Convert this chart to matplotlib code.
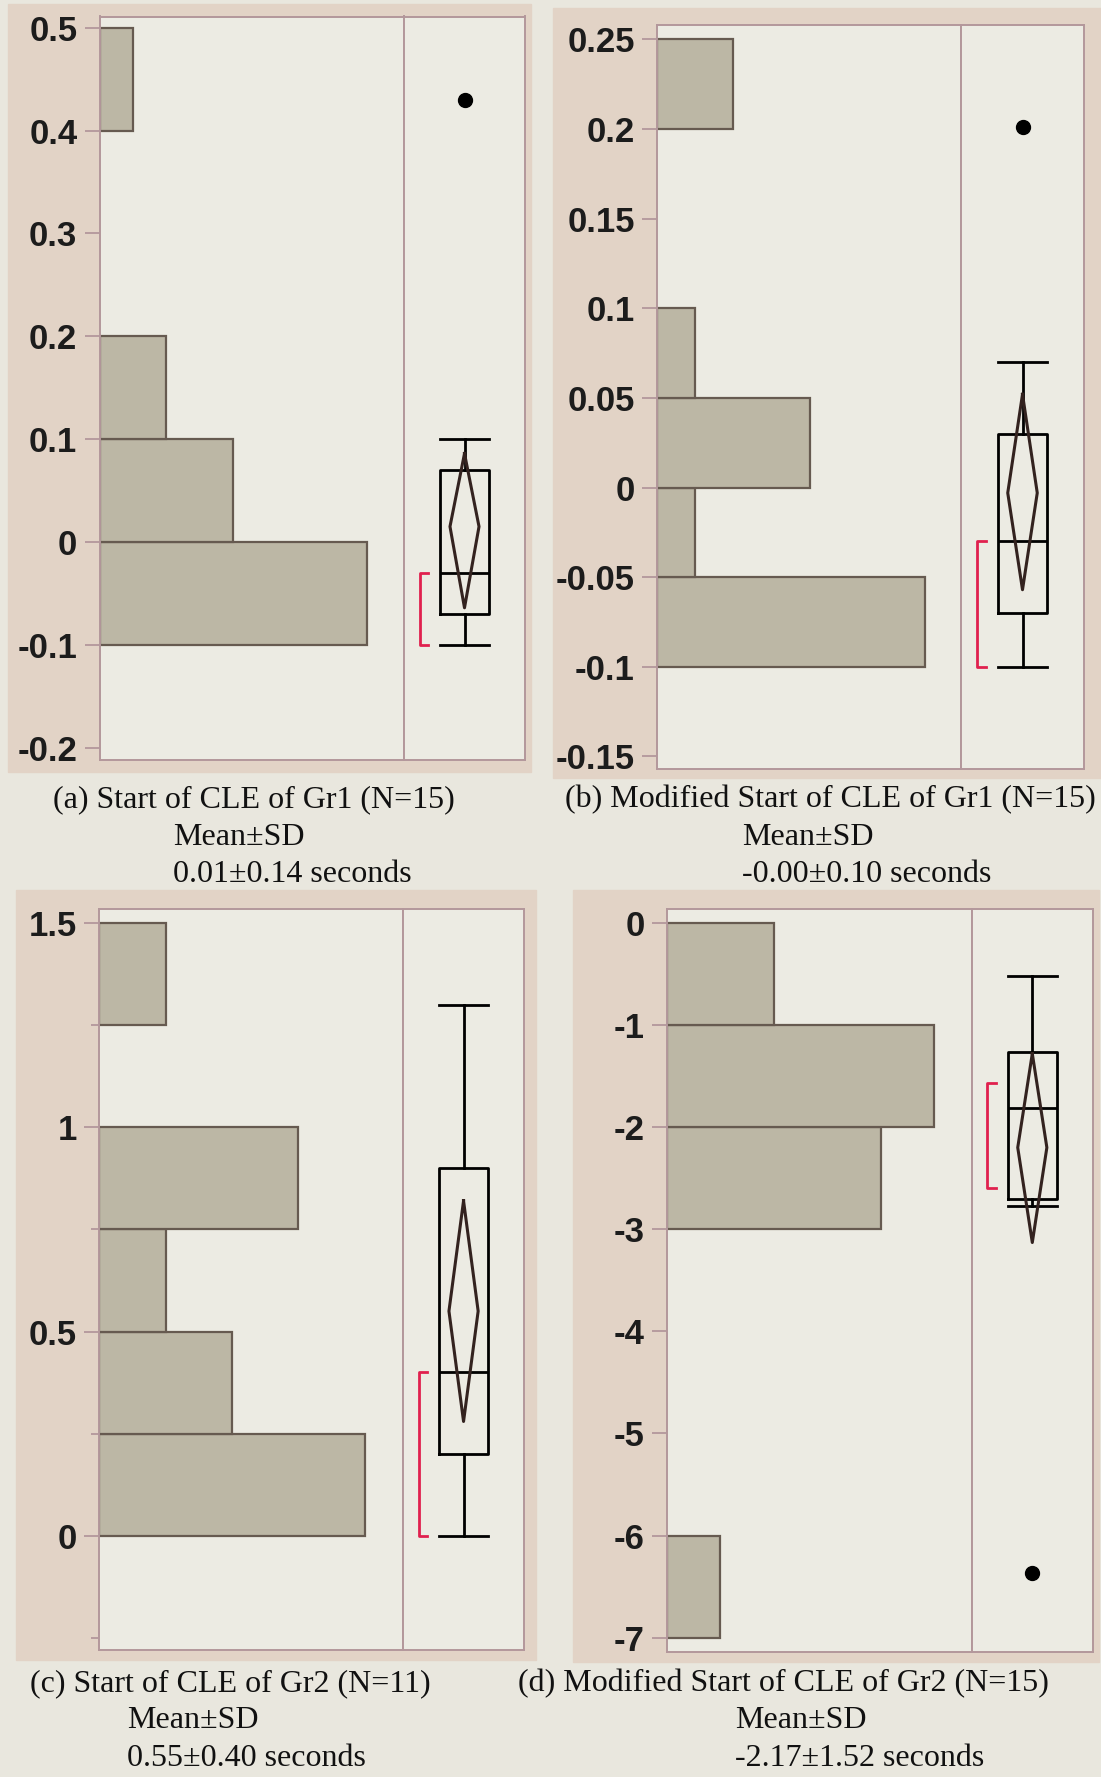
import numpy as np
import matplotlib.pyplot as plt
from matplotlib.patches import Rectangle
from matplotlib.ticker import FixedLocator

plt.rcParams['axes.unicode_minus'] = False

W, H = 1101, 1777

# (a) Start of CLE of Gr1
a_bin_lo = [-0.1, 0.0, 0.1, 0.4]
a_bin_w = 0.1
a_counts = [8, 4, 2, 1]
a_box = dict(whislo=-0.1, q1=-0.07, med=-0.03, q3=0.07, whishi=0.1, fliers=[0.43])
a_mean, a_ci = 0.015, (-0.064, 0.086)
a_half = (-0.1, -0.03)
a_ticks = [-0.2, -0.1, 0, 0.1, 0.2, 0.3, 0.4, 0.5]
a_minor = []
a_ylim = (-0.212, 0.511)
a_xmax = 9.1
a_caption = ["(a) Start of CLE of Gr1 (N=15)", "Mean\u00b1SD", "0.01\u00b10.14 seconds"]

# (b) Modified Start of CLE of Gr1
b_bin_lo = [-0.1, -0.05, 0.0, 0.05, 0.2]
b_bin_w = 0.05
b_counts = [7, 1, 4, 1, 2]
b_box = dict(whislo=-0.1, q1=-0.07, med=-0.03, q3=0.03, whishi=0.07, fliers=[0.201])
b_mean, b_ci = -0.003, (-0.057, 0.052)
b_half = (-0.1, -0.03)
b_ticks = [-0.15, -0.1, -0.05, 0, 0.05, 0.1, 0.15, 0.2, 0.25]
b_minor = []
b_ylim = (-0.157, 0.258)
b_xmax = 7.95
b_caption = ["(b) Modified Start of CLE of Gr1 (N=15)", "Mean\u00b1SD", "-0.00\u00b10.10 seconds"]

# (c) Start of CLE of Gr2
c_bin_lo = [0.0, 0.25, 0.5, 0.75, 1.25]
c_bin_w = 0.25
c_counts = [4, 2, 1, 3, 1]
c_box = dict(whislo=0.0, q1=0.2, med=0.4, q3=0.9, whishi=1.3, fliers=[])
c_mean, c_ci = 0.55, (0.28, 0.82)
c_half = (0.0, 0.4)
c_ticks = [0, 0.5, 1, 1.5]
c_minor = [-0.25, 0.25, 0.75, 1.25]
c_ylim = (-0.278, 1.535)
c_xmax = 4.57
c_caption = ["(c) Start of CLE of Gr2 (N=11)", "Mean\u00b1SD", "0.55\u00b10.40 seconds"]

# (d) Modified Start of CLE of Gr2
d_bin_lo = [-7, -3, -2, -1]
d_bin_w = 1
d_counts = [1, 4, 5, 2]
d_box = dict(whislo=-2.77, q1=-2.70, med=-1.81, q3=-1.26, whishi=-0.52, fliers=[-6.37])
d_mean, d_ci = -2.2, (-3.13, -1.28)
d_half = (-2.60, -1.57)
d_ticks = [-7, -6, -5, -4, -3, -2, -1, 0]
d_minor = []
d_ylim = (-7.14, 0.14)
d_xmax = 5.7
d_caption = ["(d) Modified Start of CLE of Gr2 (N=15)", "Mean\u00b1SD", "-2.17\u00b11.52 seconds"]

frame_col = '#b3979b'
bar_col = '#bcb7a5'
bar_edge = '#665a50'
inner_col = '#ecebe3'
tan_col = '#e2d3c6'

fig = plt.figure(figsize=(W / 100, H / 100), dpi=100, facecolor='#e9e7de')


def rect(l, t, r, b):
    return [l / W, 1 - b / H, (r - l) / W, (b - t) / H]


def panel(hist_px, div_x, right_x, bg_px, bin_lo, bin_w, counts, box, mean, ci, half,
          ticks, minor, ylim, xmax, caption, cap_cx, cap_lx, cap_y):
    l, t, r, b = bg_px
    fig.patches.append(Rectangle((l / W, 1 - b / H), (r - l) / W, (b - t) / H,
                                 transform=fig.transFigure, color=tan_col, zorder=-5))
    hl, ht, hb = hist_px
    ax = fig.add_axes(rect(hl, ht, div_x, hb))
    bx = fig.add_axes(rect(div_x, ht, right_x, hb))
    for a in (ax, bx):
        a.set_facecolor(inner_col)
        a.set_ylim(*ylim)
        for s in a.spines.values():
            s.set_color(frame_col)
            s.set_linewidth(1.4)
    ax.barh(bin_lo, counts, height=bin_w, align='edge', left=0,
            color=bar_col, edgecolor=bar_edge, linewidth=1.6)
    ax.set_xlim(0, xmax)
    ax.set_xticks([])
    ax.yaxis.set_major_locator(FixedLocator(ticks))
    ax.set_yticklabels([f"{round(v, 3):g}" for v in ticks],
                       fontsize=25, fontweight='bold', color='#1c1c1c',
                       family='Liberation Sans')
    ax.tick_params(axis='y', which='major', length=11, width=1.3, color=frame_col, pad=5)
    if minor:
        ax.yaxis.set_minor_locator(FixedLocator(minor))
        ax.tick_params(axis='y', which='minor', length=6, width=1.3, color=frame_col)

    stats = [dict(box, label='')]
    bx.bxp(stats, positions=[0.5], widths=0.4, capwidths=0.4, showfliers=True,
           boxprops=dict(color='black', linewidth=2.0),
           whiskerprops=dict(color='black', linewidth=2.0),
           capprops=dict(color='black', linewidth=2.0),
           medianprops=dict(color='black', linewidth=2.0),
           flierprops=dict(marker='o', markerfacecolor='black', markeredgecolor='black',
                           markersize=10))
    bx.set_xticks([])
    bx.set_yticks([])
    bx.set_xlim(0, 1)
    lo, hi = ci
    bx.plot([0.5, 0.62, 0.5, 0.38, 0.5], [hi, mean, lo, mean, hi],
            color='#33221f', linewidth=2.2, zorder=3)
    bx.plot([0.20, 0.13, 0.13, 0.20], [half[1], half[1], half[0], half[0]],
            color='#e0204e', linewidth=2.0)

    fig.text(cap_cx / W, 1 - cap_y[0] / H, caption[0], ha='center', va='center',
             fontsize=23, family='Liberation Serif', color='#111111')
    for txt, y in zip(caption[1:], cap_y[1:]):
        fig.text(cap_lx / W, 1 - y / H, txt, ha='left', va='center',
                 fontsize=23, family='Liberation Serif', color='#111111')


panel((99.5, 16.5, 760), 404, 525, (8, 4, 531, 772),
      a_bin_lo, a_bin_w, a_counts, a_box, a_mean, a_ci, a_half,
      a_ticks, a_minor, a_ylim, a_xmax, a_caption, 254, 173, (800, 837, 875))
panel((657, 25, 769), 961, 1084, (553, 8, 1101, 778),
      b_bin_lo, b_bin_w, b_counts, b_box, b_mean, b_ci, b_half,
      b_ticks, b_minor, b_ylim, b_xmax, b_caption, 830, 742, (800, 837, 875))
panel((99.3, 908.6, 1649.5), 402.7, 524.4, (16, 890, 536, 1660),
      c_bin_lo, c_bin_w, c_counts, c_box, c_mean, c_ci, c_half,
      c_ticks, c_minor, c_ylim, c_xmax, c_caption, 230, 127, (1684, 1721, 1759))
panel((666.7, 908.6, 1652), 971.6, 1093, (573, 890, 1099, 1662),
      d_bin_lo, d_bin_w, d_counts, d_box, d_mean, d_ci, d_half,
      d_ticks, d_minor, d_ylim, d_xmax, d_caption, 783, 735, (1684, 1721, 1759))

fig.savefig('out.png', dpi=100, facecolor=fig.get_facecolor())
